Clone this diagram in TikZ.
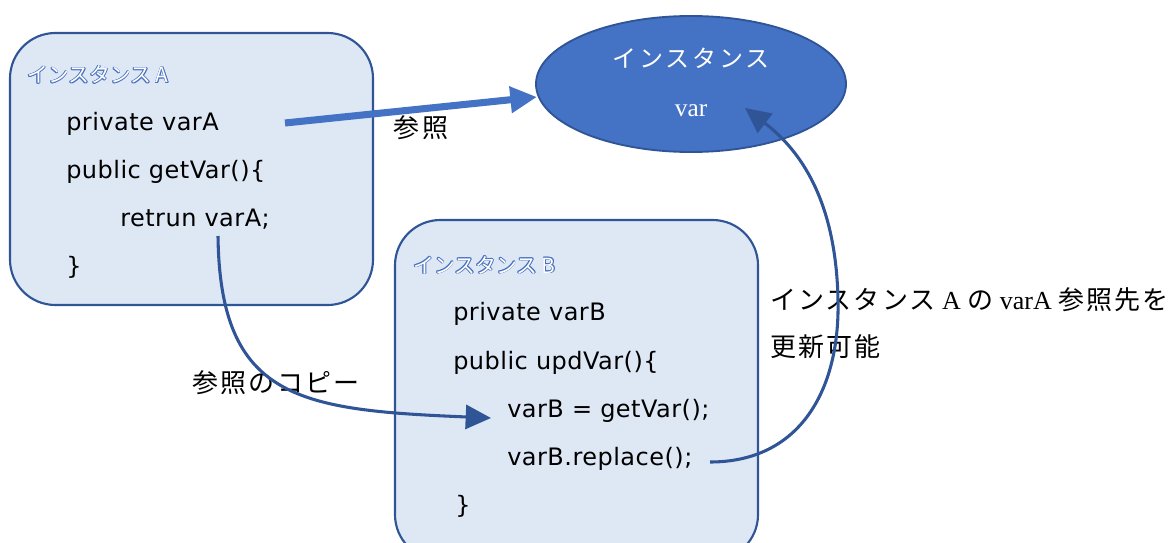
\documentclass[tikz,border=0pt]{standalone}
\usepackage{fontspec}
\setmainfont{Liberation Serif}
\newfontfamily\jp{Noto Sans CJK JP}
\newfontfamily\codefont[LetterSpace=2]{DejaVu Sans}
\usetikzlibrary{arrows.meta,shapes.geometric}
\definecolor{boxfill}{HTML}{DEE8F4}
\definecolor{boxline}{HTML}{2F5597}
\definecolor{ellfill}{HTML}{4472C4}
\definecolor{outblue}{HTML}{4A72C0}
\newcommand{\lfont}{\jp\fontsize{19.5}{23}\selectfont\addfontfeatures{LetterSpace=8}}
\newcommand{\lserif}{\normalfont\fontsize{19.5}{23}\selectfont}
\tikzset{
  instbox/.style={draw=boxline, line width=1.6pt, fill=boxfill, rounded corners=34pt},
  code/.style={anchor=base west, inner sep=0pt, font=\codefont\fontsize{18}{22}\selectfont},
  lab/.style={inner sep=0pt, font=\lfont, text=black},
  ttl/.style={anchor=base west, inner sep=0pt, font=\jp\fontsize{15.6}{18}\selectfont},
  conn/.style={draw=boxline, line width=2.3pt, -{Triangle[length=19pt,width=18pt]}},
}
\begin{document}
\begin{tikzpicture}[x=0.75pt,y=-0.75pt]
\useasboundingbox (0,0) rectangle (1173,542);
% boxes
\path[instbox] (10,33) rectangle (373,305);
\path[instbox] (395,220) rectangle (758,560);
% ellipse
\node[draw=boxline, line width=1.4pt, fill=ellfill, ellipse, minimum width=232.5pt, minimum height=102pt, inner sep=0pt] (inst) at (691,84) {};
\node[inner sep=0pt, text=white, font=\jp\fontsize{18}{22}\selectfont\addfontfeatures{LetterSpace=12}] (instlab) at (691,58) {インスタンス};
\node[inner sep=0pt, text=white, anchor=base, font=\fontsize{19}{22}\selectfont] (varlab) at (691,116) {var};
% titles (outlined)
\foreach \dx/\dy in {-0.6/0,0.6/0,0/-0.6,0/0.6,-0.45/-0.45,0.45/0.45,-0.45/0.45,0.45/-0.45}{
  \node[ttl, text=outblue, xshift=\dx pt, yshift=\dy pt] at (27,83) {インスタンス A};
  \node[ttl, text=outblue, xshift=\dx pt, yshift=\dy pt] at (413,273) {インスタンス B};
}
\node[ttl, text=white] (ttlA) at (27,83) {インスタンス A};
\node[ttl, text=white] (ttlB) at (413,273) {インスタンス B};
% code A
\node[code] (a1) at (66,130) {private varA};
\node[code] (a2) at (66,178) {public getVar()\{};
\node[code] (a3) at (120,226) {retrun varA;};
\node[code] (a4) at (66,274) {\}};
% code B
\node[code] (b1) at (453,320) {private varB};
\node[code] (b2) at (453,369) {public updVar()\{};
\node[code] (b3) at (507,417) {varB = getVar();};
\node[code] (b4) at (507,465) {varB.replace();};
\node[code] (b5) at (455,513) {\}};
% labels
\node[lab] (l1) at (421,128) {参照};
\node[lab] (l2) at (276,383) {参照のコピー};
\node[lab, anchor=west] (l3) at (770,300) {インスタンス\lserif\ A \lfont の\lserif\ varA \lfont 参照先を};
\node[lab, anchor=west] (l4) at (770,347) {更新可能};
% connectors
\coordinate (s1) at (285,123);
\coordinate (e1) at (537,97);
\draw[draw=ellfill, line width=5.3pt, -{Triangle[length=20pt,width=19pt]}] (s1) -- (e1);
\coordinate (s2) at (218,236);
\coordinate (e2) at (491,418);
\draw[conn] (s2) .. controls (220,400) and (300,410) .. (e2);
\coordinate (s3) at (710,462);
\coordinate (m3) at (838,300);
\coordinate (e3) at (745,108);
\draw[conn] (s3) .. controls (800,462) and (840,390) .. (m3) .. controls (836,200) and (800,150) .. (e3);
\end{tikzpicture}
\end{document}
